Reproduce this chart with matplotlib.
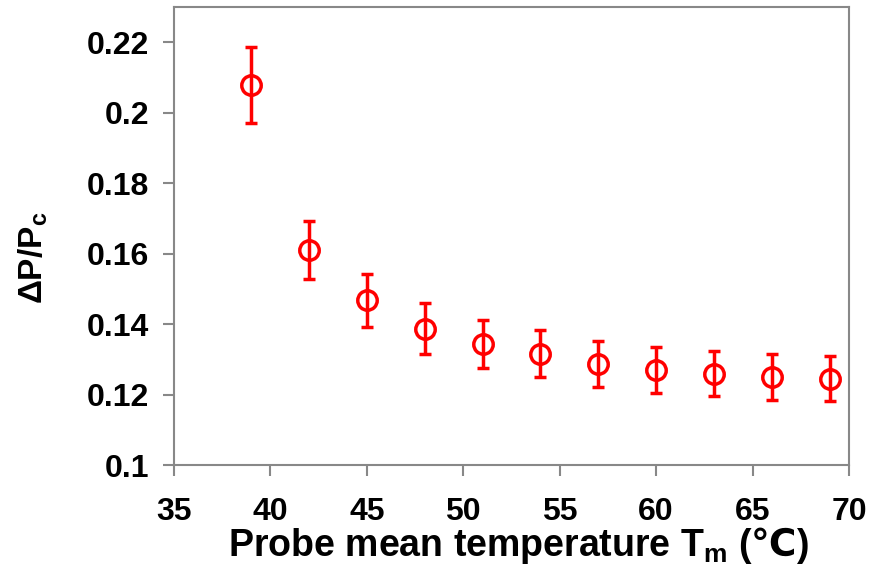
import matplotlib
matplotlib.use("Agg")
import matplotlib.pyplot as plt

# Data
temps = [39, 42, 45, 48, 51, 54, 57, 60, 63, 66, 69]
ratio = [0.2078, 0.1610, 0.1467, 0.1387, 0.1344, 0.1316, 0.1287, 0.1270, 0.1259, 0.1250, 0.1245]
errors = [0.0107, 0.0082, 0.0076, 0.0072, 0.0068, 0.0067, 0.0066, 0.0065, 0.0064, 0.0064, 0.0064]

plt.rcParams['font.family'] = ['Liberation Sans', 'DejaVu Sans']
plt.rcParams['font.weight'] = 'bold'
plt.rcParams['mathtext.fontset'] = 'custom'
plt.rcParams['mathtext.rm'] = 'Liberation Sans:bold'
plt.rcParams['mathtext.sf'] = 'DejaVu Sans:bold'
plt.rcParams['mathtext.default'] = 'regular'

fig = plt.figure(figsize=(8.71, 5.77), dpi=100)
ax = fig.add_axes([0.1998, 0.194, 0.7749, 0.794])

ax.errorbar(temps, ratio, yerr=errors, fmt='o', color='#ff0000', mfc='none',
            mec='#ff0000', ms=14, mew=2.5, elinewidth=2.5, capsize=4.5, capthick=2.5)

ax.set_xlim(35, 70)
ax.set_ylim(0.1, 0.23)
ax.set_xticks(range(35, 71, 5))
ax.set_yticks([0.1, 0.12, 0.14, 0.16, 0.18, 0.2, 0.22])
ax.set_yticklabels(['0.1', '0.12', '0.14', '0.16', '0.18', '0.2', '0.22'])

for s in ax.spines.values():
    s.set_color('#888888')
    s.set_linewidth(1.5)
ax.tick_params(colors='#888888', labelcolor='black', width=1.5, length=8,
               labelsize=23, pad=10)
ax.tick_params(axis='x', pad=15)

# axis titles
fig.text(518 / 871, 1 - 556 / 577,
         'Probe mean temperature T$_\\mathregular{m}$ ($\\mathsf{\u2103}$)',
         fontsize=27, fontweight='bold', ha='center', va='baseline')
fig.text(33 / 871, 1 - 258 / 577, '\u0394P/P$_\\mathregular{c}$', fontsize=24,
         fontweight='bold', rotation=90, ha='center', va='center')

plt.savefig('out.png', dpi=100)
